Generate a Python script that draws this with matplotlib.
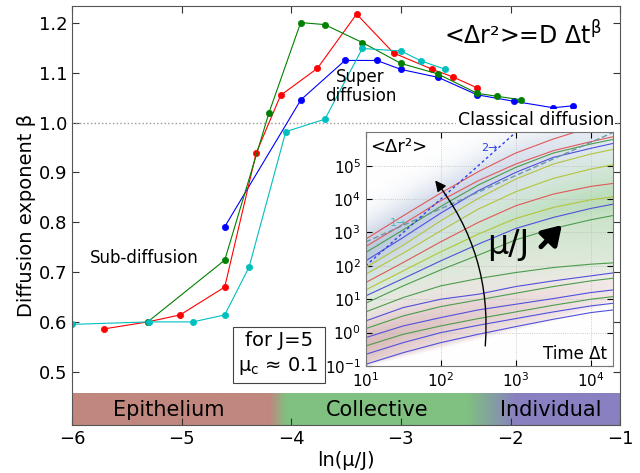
import numpy as np
import matplotlib.pyplot as plt
from matplotlib.colors import to_rgb

plt.rcParams['font.family'] = 'DejaVu Sans'
plt.rcParams['mathtext.default'] = 'regular'

# --- main panel: diffusion exponent beta vs ln(mu/J) ---
blue_x = [-4.607, -3.912, -3.51, -3.22, -3.0, -2.66, -2.305, -1.97, -1.61, -1.428]
blue_y = [0.791, 1.046, 1.125, 1.125, 1.107, 1.091, 1.056, 1.043, 1.030, 1.034]
red_x = [-5.706, -5.31, -5.014, -4.607, -4.32, -4.097, -3.762, -3.404, -3.067, -2.712, -2.527, -2.305]
red_y = [0.586, 0.600, 0.614, 0.670, 0.939, 1.055, 1.109, 1.218, 1.140, 1.107, 1.092, 1.070]
green_x = [-5.31, -4.607, -4.203, -3.914, -3.696, -3.352, -3.0, -2.664, -2.305, -2.123, -1.905]
green_y = [0.600, 0.724, 1.020, 1.201, 1.197, 1.161, 1.119, 1.098, 1.059, 1.053, 1.046]
cyan_x = [-6.0, -5.30, -4.898, -4.607, -4.385, -4.05, -3.693, -3.352, -3.0, -2.815, -2.594]
cyan_y = [0.595, 0.600, 0.600, 0.614, 0.710, 0.982, 1.007, 1.149, 1.144, 1.124, 1.107]

# phase band under the curves
band_pos = [-6.0, -4.2, -4.05, -2.4, -1.95, -1.0]
band_cols = ['#c0877f', '#c0877f', '#80c080', '#80c080', '#8880c0', '#8880c0']
band_labels = ['Epithelium', 'Collective', 'Individual']
band_label_x = [-5.12, -3.22, -1.63]

# --- inset: MSD curves (log10 values) ---
msd_t = [10, 31.6, 100, 316, 1000, 3162, 10000, 20000]
msd_log = [
    [2.80, 3.50, 4.18, 4.82, 5.38, 5.80, 6.15, 6.35],
    [2.58, 3.25, 3.95, 4.55, 5.05, 5.45, 5.72, 5.87],
    [2.40, 3.08, 3.78, 4.42, 4.95, 5.38, 5.65, 5.79],
    [2.15, 2.85, 3.58, 4.25, 4.80, 5.25, 5.52, 5.67],
    [1.95, 2.62, 3.35, 4.02, 4.60, 5.05, 5.35, 5.49],
    [1.75, 2.38, 3.05, 3.70, 4.22, 4.62, 4.90, 5.03],
    [1.50, 2.10, 2.72, 3.30, 3.80, 4.15, 4.38, 4.47],
    [1.28, 1.85, 2.42, 2.95, 3.42, 3.75, 3.98, 4.07],
    [1.10, 1.62, 2.15, 2.65, 3.12, 3.45, 3.72, 3.85],
    [0.88, 1.40, 1.88, 2.32, 2.78, 3.12, 3.38, 3.51],
    [0.62, 1.05, 1.40, 1.62, 1.80, 1.95, 2.05, 2.09],
    [0.35, 0.75, 1.00, 1.15, 1.38, 1.55, 1.70, 1.79],
    [0.12, 0.50, 0.78, 0.98, 1.18, 1.38, 1.55, 1.63],
    [-0.15, 0.20, 0.45, 0.68, 0.85, 1.02, 1.20, 1.28],
    [-0.40, -0.05, 0.20, 0.42, 0.62, 0.82, 1.00, 1.08],
    [-0.65, -0.30, 0.00, 0.22, 0.42, 0.62, 0.80, 0.88],
    [-0.95, -0.60, -0.30, -0.05, 0.18, 0.40, 0.60, 0.68],
]
msd_cols = ['red', 'red', 'green', 'blue', 'yellow', 'yellow', 'red', 'yellow', 'blue',
            'green', 'green', 'blue', 'green', 'blue', 'green', 'blue', 'blue']
line_rgb = {'red': '#e05858', 'yellow': '#b4c43a', 'green': '#4c9c4c', 'blue': '#5050dc'}

# lower edge of the shaded cloud (log10)
shade_low = [-1.05, -0.78, -0.52, -0.25, 0.02, 0.30, 0.62, 0.87]

ref1_t, ref1_v = [10, 20000], [520, 1.0e6]
ref2_t, ref2_v = [10, 1000], [100, 1.0e6]

fig = plt.figure(figsize=(6.4, 4.73), dpi=100)
ax = fig.add_axes([0.1125, 0.1015, 0.8565, 0.8855])

ax.axhline(1.0, color='#999999', ls=':', lw=1)
for xs, ys, c in [(blue_x, blue_y, 'b'), (red_x, red_y, 'r'),
                  (green_x, green_y, 'g'), (cyan_x, cyan_y, 'c')]:
    ax.plot(xs, ys, '-o', color=c, lw=0.8, ms=4.5, mec=c, mew=0.5)

# band
xx = np.linspace(-6, -1, 600)
rgb = np.array([to_rgb(c) for c in band_cols])
img = np.stack([np.interp(xx, band_pos, rgb[:, k]) for k in range(3)], axis=-1)[None, :, :]
ax.imshow(img, extent=[-6, -1, 0.393, 0.456], aspect='auto', zorder=1)
for lab, lx in zip(band_labels, band_label_x):
    ax.text(lx, 0.423, lab, ha='center', va='center', fontsize=15, zorder=3)

ax.set_xlim(-6, -1)
ax.set_ylim(0.393, 1.234)
ax.set_yticks([0.5, 0.6, 0.7, 0.8, 0.9, 1.0, 1.1, 1.2])
ax.set_xticks([-6, -5, -4, -3, -2, -1])
ax.set_xticklabels(['\u22126', '\u22125', '\u22124', '\u22123', '\u22122', '\u22121'])
ax.tick_params(direction='in', top=True, right=True, length=5, labelsize=13, colors='#333333',
               labelcolor='k')
for s in ax.spines.values():
    s.set_color('#555555')
ax.set_xlabel('ln(\u03bc/J)', fontsize=14, labelpad=2)
ax.set_ylabel('Diffusion exponent \u03b2', fontsize=14, labelpad=2)

ax.text(-5.34, 0.729, 'Sub-diffusion', ha='center', va='center', fontsize=12)
ax.text(-3.37, 1.073, 'Super\ndiffusion', ha='center', va='center', fontsize=12,
        linespacing=1.1)
ax.text(-1.77, 1.006, 'Classical diffusion', ha='center', va='center', fontsize=12.5,
        bbox=dict(fc='white', ec='none', pad=1))
ax.text(-1.89, 1.175, r'<Δr²>=D Δt$^{\beta}$', ha='center', va='center', fontsize=17)
ax.text(-4.115, 0.536, 'for J=5\n\u03bc$_\\mathrm{c}$ \u2248 0.1', ha='center', va='center',
        fontsize=14, linespacing=1.3,
        bbox=dict(fc='white', ec='#444444', lw=0.8, boxstyle='square,pad=0.3'))

# inset: soft coloured cloud behind the curves
rect = [0.5714, 0.2262, 0.3869, 0.4955]
ax_bg = fig.add_axes(rect)
lt_min, lt_max, lv_min, lv_max = 1.0, np.log10(2.0e4), -1.0, np.log10(1.05e6)
lt = np.linspace(lt_min, lt_max, 240)
lv = np.linspace(lv_max, lv_min, 280)
logt = np.log10(msd_t)
L = np.array(msd_log)
cloud = np.ones((len(lv), len(lt), 3))
c_blue = np.array([0.62, 0.70, 0.82])
c_green = np.array([0.55, 0.78, 0.55])
c_pink = np.array([0.76, 0.56, 0.56])
for j, x in enumerate(lt):
    vk = np.array([np.interp(x, logt, row) for row in L])
    low = np.interp(x, logt, shade_low)
    ys = np.concatenate([[vk[-1] - 3], vk[::-1], [vk[0] + 3]])
    idx = np.concatenate([[len(vk) - 1 + 12], np.arange(len(vk))[::-1], [-12]])
    s = np.interp(lv, ys, idx)
    f = (x - lt_min) / (lt_max - lt_min)
    wb = 0.70 * np.exp(-((s - 2.0) / 3.8) ** 2) * (1 - 0.6 * f)
    wg = 0.60 * np.exp(-((s - 7.5) / 2.8) ** 2) * (0.45 + 0.55 * f)
    wp = 0.60 * np.exp(-((s - 13.8) / 3.4) ** 2) * (1 - 0.65 * f)
    wp = wp * np.clip((lv - low) / 0.15, 0, 1)
    col = np.ones((len(lv), 3))
    for w, c in [(wb, c_blue), (wg, c_green), (wp, c_pink)]:
        col = col * (1 - w[:, None]) + c[None, :] * w[:, None]
    cloud[:, j, :] = col
ax_bg.imshow(cloud, extent=[lt_min, lt_max, lv_min, lv_max], aspect='auto', interpolation='bilinear')
ax_bg.set_xlim(lt_min, lt_max)
ax_bg.set_ylim(lv_min, lv_max)
ax_bg.axis('off')

ax_in = fig.add_axes(rect)
ax_in.patch.set_alpha(0)
ax_in.set_xscale('log')
ax_in.set_yscale('log')
t = np.array(msd_t, dtype=float)
for vals, c in zip(msd_log, msd_cols):
    ax_in.plot(t, 10 ** np.array(vals), color=line_rgb[c], lw=0.8)
ax_in.plot(ref1_t, ref1_v, color='#6a98a4', lw=1, dashes=(4, 2))
ax_in.plot(ref2_t, ref2_v, color='#3040ee', lw=1, dashes=(2, 2))
ax_in.text(27, 1.9e3, '1\u2192', color='#40c0c0', fontsize=8, ha='center', va='center')
ax_in.text(450, 3.4e5, '2\u2192', color='#3040ee', fontsize=8, ha='center', va='center')

ax_in.annotate('', xy=(80, 4.2e4), xytext=(390, 0.33),
               arrowprops=dict(arrowstyle='-|>', connectionstyle='arc3,rad=0.2',
                               color='k', lw=1, mutation_scale=16))
ax_in.text(0.575, 0.52, '\u03bc/J', transform=ax_in.transAxes, fontsize=24,
           ha='center', va='center')
ax_in.annotate('', xy=(0.80, 0.61), xytext=(0.70, 0.50), xycoords='axes fraction',
               arrowprops=dict(arrowstyle='-|>,head_width=0.5,head_length=0.8',
                               color='k', lw=3.5, mutation_scale=14))
ax_in.text(0.017, 0.935, '<Δr²>', transform=ax_in.transAxes, fontsize=13,
           ha='left', va='center')
ax_in.text(0.976, 0.052, 'Time Δt', transform=ax_in.transAxes, fontsize=12,
           ha='right', va='center')

ax_in.set_xlim(10, 2.0e4)
ax_in.set_ylim(0.1, 1.05e6)
ax_in.set_yticks([1e-1, 1e0, 1e1, 1e2, 1e3, 1e4, 1e5])
ax_in.grid(True, ls=':', color='#bbbbbb', lw=0.6)
ax_in.minorticks_off()
ax_in.tick_params(direction='in', top=True, right=True, length=4, labelsize=11)
for s in ax_in.spines.values():
    s.set_color('#777777')

fig.savefig('out.png', dpi=100)
